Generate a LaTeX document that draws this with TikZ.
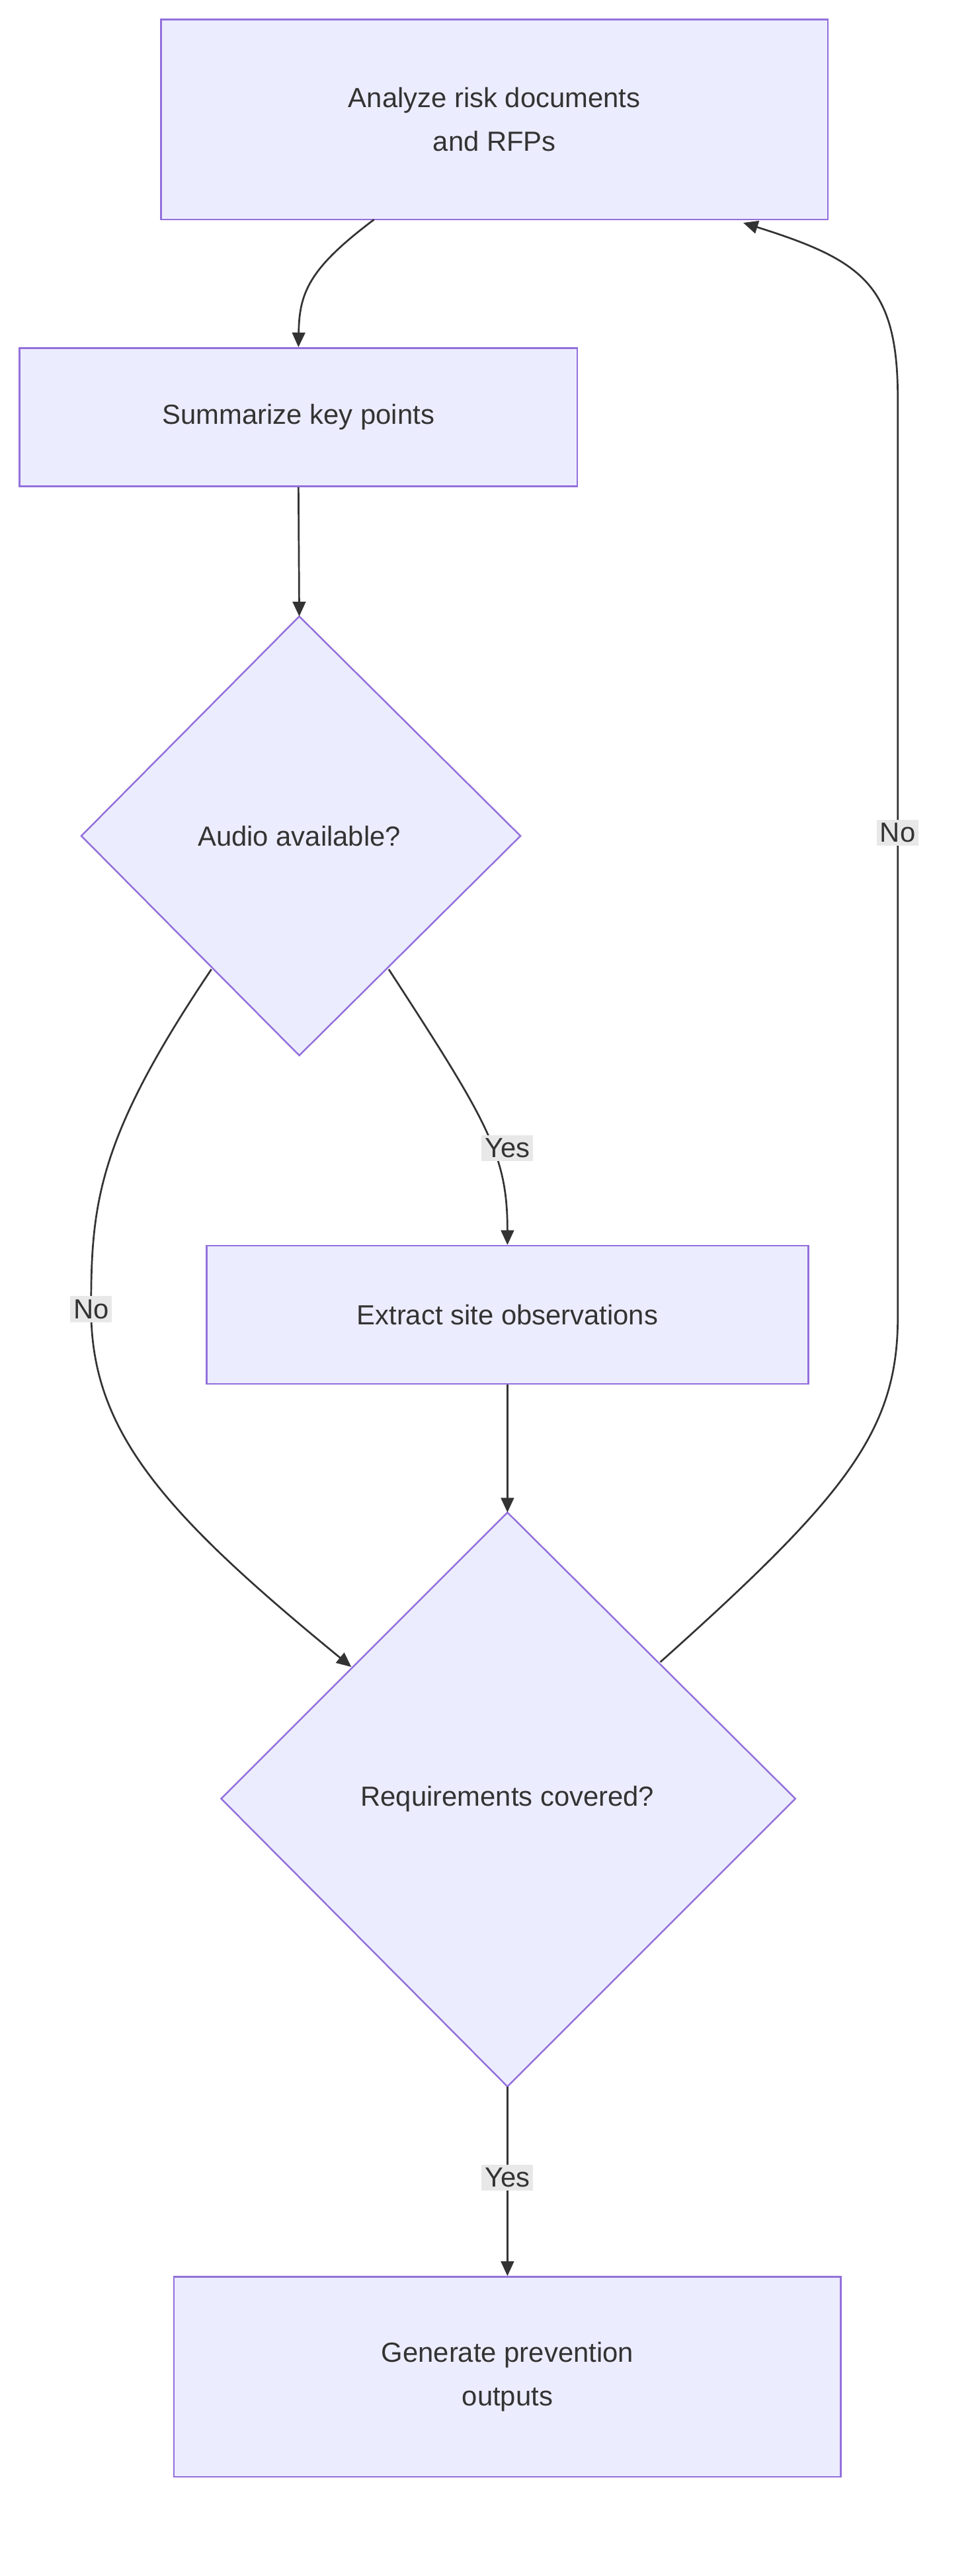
\documentclass[tikz,border=0pt]{standalone}
\usepackage{fontspec}
\setmainfont{Liberation Sans}
\usetikzlibrary{shapes.geometric,arrows.meta}
\definecolor{nfill}{HTML}{ECECFF}
\definecolor{nline}{HTML}{9370DB}
\definecolor{ink}{HTML}{333333}
\definecolor{lbl}{HTML}{E8E8E8}
\begin{document}
\begin{tikzpicture}[x=1pt,y=-1pt,
  box/.style={draw=nline,fill=nfill,line width=1pt,text=ink,font=\fontsize{17}{27}\selectfont,align=center,inner sep=0pt},
  dia/.style={draw=nline,fill=nfill,line width=1pt,line join=miter},
  edge/.style={draw=ink,line width=1.1pt,-{Triangle[length=9pt,width=8pt]}},
  lab/.style={fill=lbl,text=ink,font=\fontsize{17}{20}\selectfont,inner sep=2pt}]
\useasboundingbox (0,0) rectangle (600,1584);
\node[box,minimum width=410pt,minimum height=123pt] (a) at (304,73.5) {Analyze risk documents\\and RFPs};
\node[box,minimum width=343pt,minimum height=85pt] (b) at (183.5,256.5) {Summarize key points};
\draw[dia] (184,379) -- (320,514) -- (184,649) -- (50,514) -- cycle;
\node[text=ink,font=\fontsize{17}{20}\selectfont] (c) at (184,514) {Audio available?};
\coordinate (ct) at (184,379);
\node[box,minimum width=370pt,minimum height=85pt] (d) at (312,808.5) {Extract site observations};
\draw[dia] (312,930) -- (489,1106) -- (312,1283) -- (136,1106) -- cycle;
\node[text=ink,font=\fontsize{17}{20}\selectfont] (e) at (312,1106) {Requirements covered?};
\coordinate (et) at (312,930);
\coordinate (eb) at (312,1283);
\node[box,minimum width=410pt,minimum height=123pt] (f) at (312,1461.5) {Generate prevention\\outputs};
\draw[edge] (230,135) .. controls (190,165) and (184,180) .. (b.north);
\draw[edge] (b.south) -- (ct);
\draw[edge] (239,596) .. controls (300,690) and (312,710) .. (d.north);
\node[lab] at (312,706) {Yes};
\draw[edge] (130,596) .. controls (60,700) and (56,740) .. (56,805) .. controls (56,880) and (100,930) .. (216,1025);
\node[lab] at (56,805) {No};
\draw[edge] (d.south) -- (et);
\draw[edge] (406,1022) .. controls (520,920) and (552,880) .. (552,810) -- (552,245) .. controls (552,175) and (530,160) .. (457,137);
\node[lab] at (552,512) {No};
\draw[edge] (eb) -- (f.north);
\node[lab] at (312,1339) {Yes};
\end{tikzpicture}
\end{document}
